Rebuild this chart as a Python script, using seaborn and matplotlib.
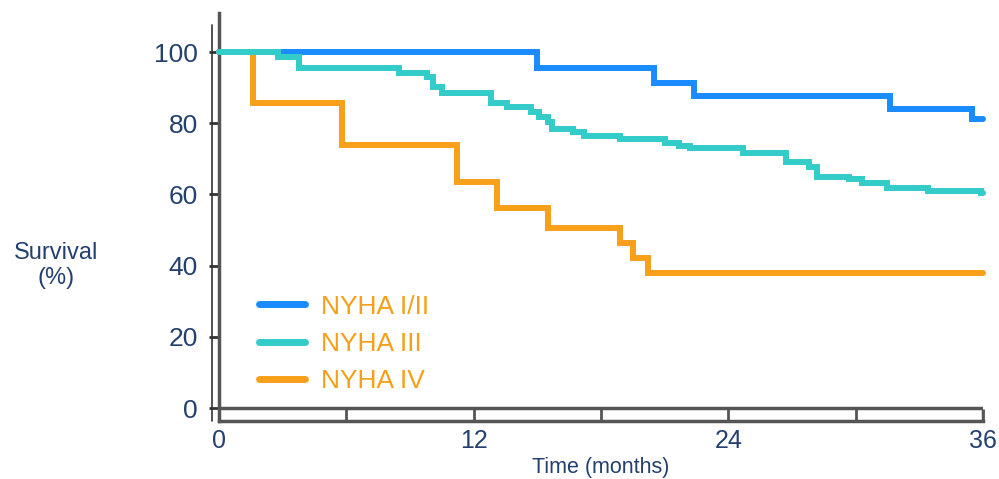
import numpy as np
import pandas as pd
import matplotlib
matplotlib.use("Agg")
import matplotlib.pyplot as plt
import seaborn as sns

# ==================== DATA ====================
groups = ["NYHA I/II", "NYHA III", "NYHA IV"]

t_nyha12 = [0, 15.0, 20.5, 22.4, 31.6, 35.5, 36]
s_nyha12 = [100, 95.5, 91.3, 87.6, 84.0, 81.2, 81.2]

t_nyha3 = [0, 2.8, 3.8, 8.5, 9.8, 10.1, 10.5, 12.8, 13.6, 14.7, 15.1, 15.5, 15.7,
           16.7, 17.2, 18.9, 21.0, 21.7, 22.2, 24.7, 26.7, 27.8, 28.2, 29.7,
           30.3, 31.5, 33.4, 35.9, 36]
s_nyha3 = [100, 98.6, 95.5, 94.0, 93.0, 90.2, 88.5, 85.7, 84.6, 83.2, 81.7, 80.3, 78.4,
           77.5, 76.5, 75.6, 74.6, 73.6, 73.0, 71.6, 69.0, 67.7, 65.0, 64.3,
           63.2, 61.8, 61.0, 60.4, 60.4]

t_nyha4 = [0, 1.6, 5.8, 11.2, 13.1, 15.5, 18.9, 19.5, 20.2, 36]
s_nyha4 = [100, 85.7, 73.9, 63.5, 56.2, 50.6, 46.3, 42.1, 37.9, 37.9]

x_major = [0, 12, 24, 36]
x_minor = [6, 18, 30]
y_ticks = [0, 20, 40, 60, 80, 100]

colors = ["#1A8CFF", "#33CCC8", "#F9A01B"]
navy = "#24406E"
axis_gray = "#555555"

df = pd.concat([
    pd.DataFrame({"time": t_nyha12, "surv": s_nyha12, "group": groups[0]}),
    pd.DataFrame({"time": t_nyha3, "surv": s_nyha3, "group": groups[1]}),
    pd.DataFrame({"time": t_nyha4, "surv": s_nyha4, "group": groups[2]}),
])

# ==================== PLOT ====================
sns.set_style("white")
plt.rcParams["font.family"] = ["Liberation Sans", "DejaVu Sans"]

fig = plt.figure(figsize=(9.99, 4.79), dpi=100)
ax = fig.add_axes([0.219, 0.122, 0.765, 0.851])

sns.lineplot(data=df, x="time", y="surv", hue="group", hue_order=groups,
             palette=colors, drawstyle="steps-post", linewidth=4.3,
             estimator=None, ax=ax)

# cyan on top of blue, like the reference
ax.lines[0].set_zorder(2)
ax.lines[2].set_zorder(2.5)
ax.lines[1].set_zorder(3)
for ln in ax.lines:
    ln.set_clip_on(False)
    ln.set_solid_joinstyle("miter")

ax.set_xlim(0, 36)
ax.set_ylim(-3.5, 111)

# axes styling
for side in ["top", "right"]:
    ax.spines[side].set_visible(False)
for side in ["left", "bottom"]:
    ax.spines[side].set_linewidth(2.5)
    ax.spines[side].set_color(axis_gray)
ax.axhline(0, color=axis_gray, lw=2.5, zorder=1)
ax.axvline(36, ymin=0, ymax=3.5 / 114.5, color=axis_gray, lw=2.5)
# thin outer line left of the y spine
ax.plot([-0.0095, -0.0095], [0, 0.97], transform=ax.transAxes, color="#333333",
        lw=1.2, clip_on=False)

ax.set_xticks(x_major)
ax.set_xticks(x_minor, minor=True)
ax.tick_params(axis="x", which="both", bottom=True, direction="in", length=9,
               width=2, color=axis_gray, labelsize=18, labelcolor=navy, pad=6)
ax.set_yticks(y_ticks)
ax.tick_params(axis="y", left=True, direction="out", length=7, width=2,
               color="#333333", labelsize=19, labelcolor=navy, pad=8)

ax.set_xlabel("Time (months)", fontsize=15.5, color=navy, labelpad=3)
ax.set_ylabel("Survival\n(%)", fontsize=17, color=navy, rotation=0,
              ha="center", va="center", labelpad=0)
ax.yaxis.set_label_coords(-0.213, 0.38)

leg = ax.legend(loc="upper left", bbox_to_anchor=(0.021, 0.367), frameon=False,
                fontsize=19, handlelength=1.75, handletextpad=0.6, labelspacing=0.5)
for txt in leg.get_texts():
    txt.set_color("#F5A01A")
for h in leg.get_lines():
    h.set_linewidth(5)

fig.savefig("out.png", dpi=100)
